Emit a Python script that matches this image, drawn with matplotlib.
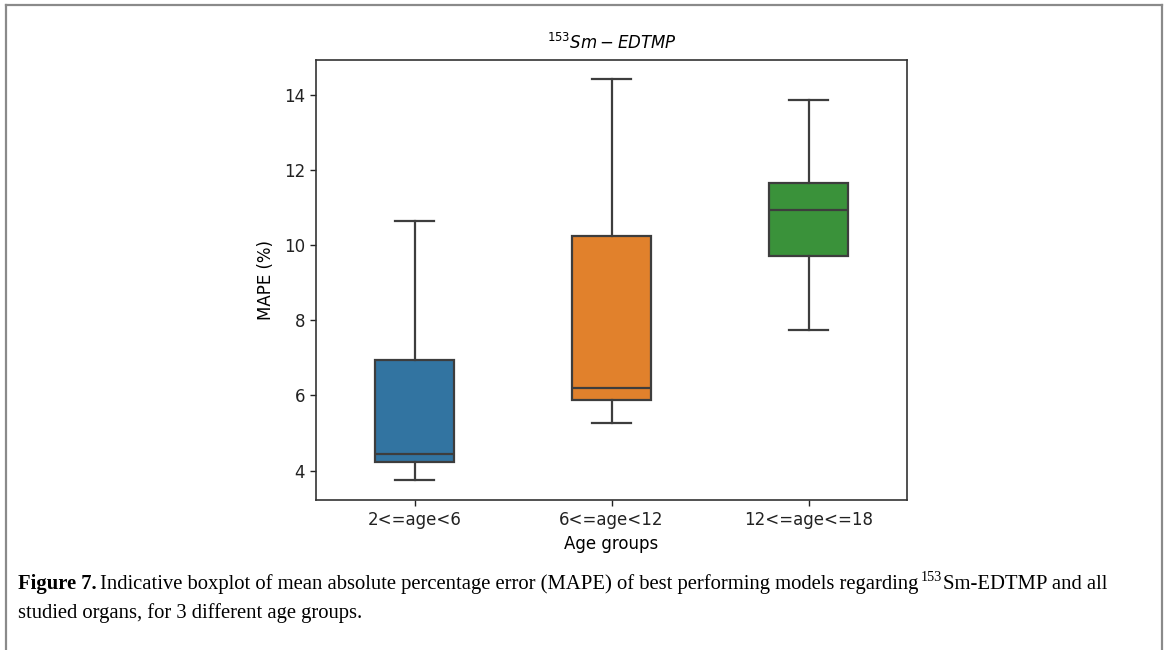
import matplotlib
matplotlib.use("Agg")
import matplotlib.pyplot as plt
from matplotlib.lines import Line2D

plt.rcParams["font.family"] = ["DejaVu Sans"]

# ---- data ----
categories = ["2<=age<6", "6<=age<12", "12<=age<=18"]
whisker_low = [3.76, 5.28, 7.75]
q1_values = [4.22, 5.87, 9.72]
median_values = [4.45, 6.20, 10.93]
q3_values = [6.94, 10.24, 11.65]
whisker_high = [10.65, 14.42, 13.86]
box_colors = ["#3274a1", "#e1812c", "#3a923a"]

title_text = r"$^{153}Sm - EDTMP$"
y_label = "MAPE (%)"
x_label = "Age groups"

W, H = 1168, 650
fig = plt.figure(figsize=(W / 100, H / 100), dpi=100)
ax = fig.add_axes([316 / W, 1 - 500 / H, (907 - 316) / W, (500 - 60) / H])

stats = []
for i, name in enumerate(categories):
    stats.append(dict(label=name, whislo=whisker_low[i], q1=q1_values[i],
                      med=median_values[i], q3=q3_values[i],
                      whishi=whisker_high[i], fliers=[]))

edge = "#3d3d3d"
lw = 1.6
bp = ax.bxp(stats, positions=range(len(categories)), widths=0.4,
            patch_artist=True, showfliers=False,
            boxprops=dict(edgecolor=edge, linewidth=lw),
            medianprops=dict(color=edge, linewidth=lw),
            whiskerprops=dict(color=edge, linewidth=lw),
            capprops=dict(color=edge, linewidth=lw), capwidths=0.2)
for patch, c in zip(bp["boxes"], box_colors):
    patch.set_facecolor(c)

ax.set_xlim(-0.5, 2.5)
ax.set_ylim(3.22, 14.92)
ax.set_yticks([4, 6, 8, 10, 12, 14])
ax.set_xticks(range(len(categories)))
ax.set_xticklabels(categories)
ax.tick_params(labelsize=12, colors="#222222", length=4.5, width=1.0)
for s in ax.spines.values():
    s.set_color("#333333")
    s.set_linewidth(1.2)
ax.set_title(title_text, fontsize=12, pad=8)
ax.set_ylabel(y_label, fontsize=12, labelpad=6)
ax.set_xlabel(x_label, fontsize=12, labelpad=4)

# page frame
for xs, ys in [([6, 6], [650, 5]), ([6, 1162], [5, 5]), ([1162, 1162], [5, 650])]:
    fig.add_artist(Line2D([x / W for x in xs], [1 - y / H for y in ys],
                          color="#8a8a8a", linewidth=1.6))

# caption, built from pieces placed one after another
serif = ["Liberation Serif", "DejaVu Serif"]
cap_fs = 14.9
fig.canvas.draw()
renderer = fig.canvas.get_renderer()


def put(x_px, y_px, s, **kw):
    t = fig.text(x_px / W, 1 - y_px / H, s, family=serif, va="baseline", **kw)
    return t.get_window_extent(renderer=renderer).x1


x = put(18, 589, "Figure 7.", fontsize=cap_fs, fontweight="bold")
x = put(x + 3, 589,
        "Indicative boxplot of mean absolute percentage error (MAPE) of best performing models regarding ",
        fontsize=cap_fs)
x = put(x - 2, 581, "153", fontsize=cap_fs * 0.68)
put(x + 1, 589, "Sm-EDTMP and all", fontsize=cap_fs)
put(18, 618, "studied organs, for 3 different age groups.", fontsize=cap_fs)

fig.savefig("out.png", dpi=100)
